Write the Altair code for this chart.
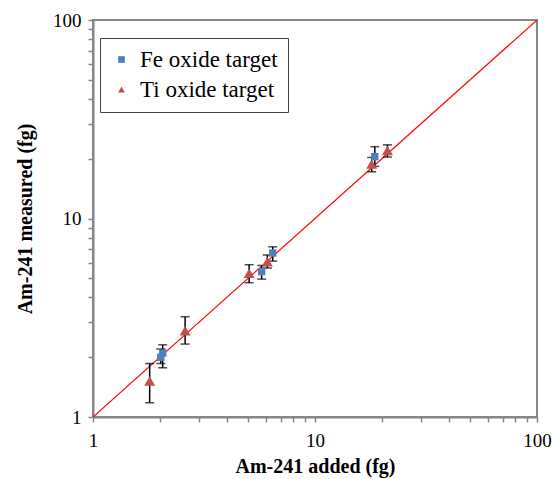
import altair as alt
import pandas as pd

fe_x = [2.02, 2.06, 5.75, 6.45, 18.6]
fe_y = [2.0, 2.1, 5.4, 6.7, 20.5]
fe_lo = [1.86, 1.77, 4.95, 6.1, 18.3]
fe_hi = [2.2, 2.31, 5.8, 7.2, 23.0]

ti_x = [1.8, 2.6, 5.05, 6.1, 18.0, 21.2]
ti_y = [1.52, 2.72, 5.3, 6.05, 18.8, 22.0]
ti_lo = [1.18, 2.33, 4.75, 5.63, 17.2, 20.4]
ti_hi = [1.86, 3.2, 5.85, 6.55, 20.3, 23.5]

series = ["Fe oxide target", "Ti oxide target"]
line_x = [1, 100]

rows = []
for x, y, lo, hi in zip(fe_x, fe_y, fe_lo, fe_hi):
    rows.append(dict(s=series[0], x=x, y=y, lo=lo, hi=hi))
for x, y, lo, hi in zip(ti_x, ti_y, ti_lo, ti_hi):
    rows.append(dict(s=series[1], x=x, y=y, lo=lo, hi=hi))
df = pd.DataFrame(rows)
line_df = pd.DataFrame({"x": line_x, "y": line_x})

SERIF = "Liberation Serif"
ticks = [1, 2, 3, 4, 5, 6, 7, 8, 9, 10, 20, 30, 40, 50, 60, 70, 80, 90, 100]
label_expr = "(datum.value == 1 || datum.value == 10 || datum.value == 100) ? datum.label : ''"

xscale = alt.Scale(type="log", domain=[1, 100], nice=False)
yscale = alt.Scale(type="log", domain=[1, 100], nice=False)

xaxis = alt.Axis(values=ticks, labelExpr=label_expr, grid=False, tickSize=5,
                 title="Am-241 added (fg)", labelPadding=9, titlePadding=6,
                 labelFlush=False)
yaxis = alt.Axis(values=ticks, labelExpr=label_expr, grid=False, tickSize=5,
                 title="Am-241 measured (fg)", labelPadding=7, titlePadding=17)

line = alt.Chart(line_df).mark_line(color="#FF0000", strokeWidth=1.2, clip=True).encode(
    x=alt.X("x:Q", scale=xscale, axis=xaxis),
    y=alt.Y("y:Q", scale=yscale, axis=yaxis),
)

rule = alt.Chart(df).mark_rule(color="black", strokeWidth=1.5).encode(
    x=alt.X("x:Q", scale=xscale),
    y=alt.Y("lo:Q", scale=yscale),
    y2="hi:Q",
)
cap_lo = alt.Chart(df).mark_tick(color="black", orient="horizontal", size=9, thickness=1.5).encode(
    x=alt.X("x:Q", scale=xscale),
    y=alt.Y("lo:Q", scale=yscale),
)
cap_hi = alt.Chart(df).mark_tick(color="black", orient="horizontal", size=9, thickness=1.5).encode(
    x=alt.X("x:Q", scale=xscale),
    y=alt.Y("hi:Q", scale=yscale),
)

color_enc = alt.Color("s:N", scale=alt.Scale(domain=series, range=["#4F81BD", "#C0504D"]),
                      legend=alt.Legend(title=None, orient="none", legendX=7, legendY=18,
                                        strokeColor="#404040", fillColor="white",
                                        padding=10, labelFont=SERIF, labelFontSize=23,
                                        labelColor="black", symbolSize=45, rowPadding=6,
                                        labelOffset=7, symbolStrokeWidth=0,
                                        labelLimit=300))
shape_enc = alt.Shape("s:N", scale=alt.Scale(domain=series, range=["square", "triangle-up"]),
                      legend=alt.Legend(title=None, orient="none", legendX=7, legendY=18))

fe_pts = alt.Chart(df).transform_filter(alt.datum.s == series[0]).mark_point(
    filled=True, opacity=1, size=55).encode(
    x=alt.X("x:Q", scale=xscale),
    y=alt.Y("y:Q", scale=yscale),
    color=color_enc, shape=shape_enc,
)
ti_pts = alt.Chart(df).transform_filter(alt.datum.s == series[1]).mark_point(
    filled=True, opacity=1, size=120).encode(
    x=alt.X("x:Q", scale=xscale),
    y=alt.Y("y:Q", scale=yscale),
    color=color_enc, shape=shape_enc,
)

chart = alt.layer(line, rule, cap_lo, cap_hi, fe_pts, ti_pts).properties(
    width=444, height=397,
    padding={"left": 93, "top": 20, "right": 17, "bottom": 62},
    autosize=alt.AutoSizeParams(type="none"),
    background="white",
).configure_view(
    stroke="#868686", strokeWidth=2
).configure_axis(
    domainColor="#868686", domainWidth=2, tickColor="#868686", tickWidth=1.5,
    labelFont=SERIF, labelFontSize=19, labelColor="black",
    titleFont=SERIF, titleFontSize=20, titleFontWeight="bold", titleColor="black",
)

chart.save("out.html", embed_options={"renderer": "svg", "actions": False})
